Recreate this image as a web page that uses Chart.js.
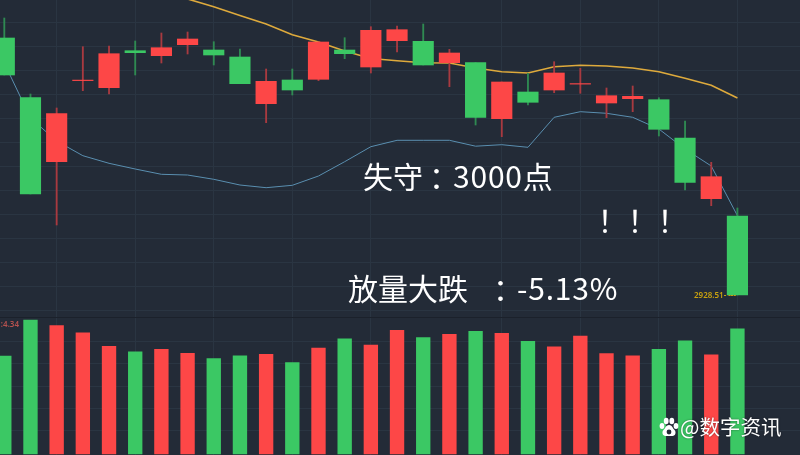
<!DOCTYPE html>
<html lang="zh">
<head>
<meta charset="utf-8">
<title>K线</title>
<script src="https://cdn.jsdelivr.net/npm/chart.js@4/dist/chart.umd.min.js"></script>
<style>
  html, body { margin: 0; padding: 0; background: #232b37; }
  #page { position: relative; width: 800px; height: 455px; overflow: hidden; background: #232b37; }
  canvas { position: absolute; left: 0; display: block; }
  #priceChart { top: 0; }
  #volumeChart { top: 318px; }
  #divider { position: absolute; left: 0; top: 317px; width: 800px; height: 1px; background: #1b212b; }
  .note { position: absolute; color: #fff; font: 30px/40px "Noto Sans CJK SC"; white-space: nowrap; }
  .tc { font-family: "Noto Sans CJK TC"; }
  .colon { font-family: "Noto Sans CJK TC"; position: relative; left: 6px; }
  .num { letter-spacing: 0.8px; }
  .small { position: absolute; font: 600 8px/10px "Noto Sans", sans-serif; white-space: nowrap; }
  #mark { position: absolute; left: 680px; top: 412px; color: #fff; font: 20.500px/28px "Noto Sans CJK SC"; white-space: nowrap; text-shadow: 0 0 2px rgba(0,0,0,.5); }
  #paw { position: absolute; left: 659px; top: 417px; }
</style>
</head>
<body>
<div id="page">
  <canvas id="priceChart" width="800" height="317"></canvas>
  <div id="divider"></div>
  <canvas id="volumeChart" width="800" height="137"></canvas>
  <div class="note" style="left:363px;top:155px">失守<span class="colon">：</span><span class="num">3000</span>点</div>
  <div class="note tc" style="left:590px;top:199px">！！！</div>
  <div class="note" style="left:348px;top:267px">放量大跌<span class="colon" style="margin-left:19px">：</span><span class="num">-5.13%</span></div>
  <div class="small" style="left:694px;top:290px;color:#c9a20e">2928.51- ---</div>
  <div class="small" style="right:781px;top:319px;color:#b5524f">1:4.34</div>
  <svg id="paw" width="20" height="20" viewBox="0 0 20 20">
    <ellipse cx="3" cy="9" rx="2.4" ry="3" fill="#fff"/>
    <ellipse cx="7.2" cy="4" rx="2.4" ry="3.2" fill="#fff"/>
    <ellipse cx="12.8" cy="4" rx="2.4" ry="3.2" fill="#fff"/>
    <ellipse cx="17" cy="9" rx="2.4" ry="3" fill="#fff"/>
    <path d="M10 8c-3 0-3.5 3-5.5 5s-1 6 2 6h7c3 0 4-4 2-6s-2.500-5-5.500-5z" fill="#fff"/>
    <circle cx="10" cy="15" r="2.400" fill="#232b37"/>
  </svg>
  <div id="mark">@数字资讯</div>
</div>
<script>
const opens = [3442.5, 3323.5, 3195.1, 3357.3, 3343.1, 3417.1, 3407.1, 3429.1, 3418.5, 3404.5, 3311.1, 3358.5, 3359.9, 3418.5, 3384.5, 3437.1, 3435.9, 3393.1, 3393.1, 3281.1, 3334.5, 3338.5, 3350.3, 3312.5, 3321.1, 3319.1, 3242.5, 3121.1, 3086.5];
const closes = [3368.5, 3130.5, 3291.1, 3358.3, 3411.1, 3413.1, 3423.1, 3440.5, 3408.5, 3351.1, 3355.9, 3338.5, 3434.5, 3411.1, 3457.9, 3459.1, 3388.5, 3412.5, 3283.9, 3354.5, 3313.9, 3372.5, 3351.3, 3327.1, 3325.9, 3259.9, 3153.9, 3165.1, 2928.51];
const highs = [3482.5, 3330.5, 3302.5, 3425.1, 3426.5, 3436.5, 3452.5, 3454.5, 3435.1, 3420.5, 3380.5, 3380.5, 3434.5, 3443.1, 3465.1, 3466.5, 3470.5, 3419.9, 3393.1, 3354.5, 3371.9, 3395.1, 3381.9, 3342.5, 3346.5, 3323.1, 3276.5, 3193.9, 3102.5];
const lows = [3368.5, 3130.5, 3068.5, 3337.1, 3330.5, 3368.5, 3392.5, 3410.5, 3388.5, 3351.1, 3273.1, 3328.5, 3357.1, 3401.1, 3372.5, 3414.5, 3388.5, 3345.1, 3268.5, 3245.1, 3308.5, 3333.1, 3331.9, 3283.1, 3295.1, 3246.5, 3138.5, 3107.1, 2928.51];
const maSlow = [null, null, null, null, null, null, null, 3520.5, 3505.1, 3487.5, 3470.5, 3449.1, 3434.5, 3416.5, 3401.5, 3397.1, 3393.1, 3392.5, 3382.5, 3375.1, 3372.5, 3385.1, 3387.9, 3386.5, 3382.5, 3375.1, 3361.9, 3347.9, 3322.5];
const maFast = [3392.5, 3282.5, 3236.5, 3207.1, 3191.9, 3180.5, 3169.9, 3168.5, 3159.9, 3148.5, 3143.1, 3147.9, 3166.5, 3195.1, 3225.1, 3237.9, 3237.9, 3237.9, 3226.1, 3229.1, 3223.9, 3283.9, 3295.1, 3291.9, 3283.9, 3260.5, 3220.5, 3186.5, 3087.1];
const volumes = [3.18, 4.35, 4.17, 3.94, 3.50, 3.32, 3.40, 3.27, 3.10, 3.19, 3.24, 2.97, 3.44, 3.74, 3.54, 4.02, 3.78, 3.89, 3.99, 3.92, 3.66, 3.48, 3.83, 3.26, 3.19, 3.40, 3.68, 3.22, 4.07];
const gridCandles = [2, 5, 8, 11, 14, 19, 22, 25, 28];
const priceTicks = [3473.1, 3425.1, 3377.1, 3329.1, 3281.1, 3233.1, 3185.1, 3137.1, 3089.1, 3041.1, 2993.1, 2945.1, 2897.1];
const volumeTicks = [0.75, 1.48, 2.21, 2.94, 3.67];

const UP = '#fd4747';
const DOWN = '#3bc864';
const UP_WICK = '#a83a40';
const DOWN_WICK = '#2f8a52';
const GRID = '#2a3542';
const candleColors = opens.map((o, i) => closes[i] >= o ? UP : DOWN);
const wickColors = opens.map((o, i) => closes[i] >= o ? UP_WICK : DOWN_WICK);

function pairs(values) {
  return values.map((v, i) => ({ x: i, y: v }));
}

// same x window for both panels so candles and volume bars line up
function xAxis() {
  return {
    type: 'linear',
    offset: false,
    min: -0.164,
    max: 30.39,
    afterBuildTicks: s => { s.ticks = gridCandles.map(v => ({ value: v })); },
    afterFit: s => { s.height = 0; },
    ticks: { display: false },
    border: { display: false },
    grid: { color: GRID, drawTicks: false, offset: false }
  };
}

function yAxis(min, max, tickValues) {
  return {
    min,
    max,
    afterBuildTicks: s => { s.ticks = tickValues.map(v => ({ value: v })); },
    afterFit: s => { s.width = 0; },
    ticks: { display: false },
    border: { display: false },
    grid: { color: GRID, drawTicks: false }
  };
}

function baseOptions(min, max, tickValues) {
  return {
    responsive: false,
    animation: false,
    events: [],
    layout: { padding: 0 },
    plugins: { legend: { display: false }, tooltip: { enabled: false } },
    scales: { x: xAxis(), y: yAxis(min, max, tickValues) }
  };
}

new Chart(document.getElementById('priceChart'), {
  type: 'bar',
  data: {
    datasets: [
      {
        type: 'line',
        data: pairs(maSlow),
        borderColor: '#deaa3c',
        borderWidth: 1.6,
        pointRadius: 0,
        tension: 0,
        order: 4
      },
      {
        type: 'line',
        data: pairs(maFast),
        borderColor: '#5a8fb0',
        borderWidth: 1,
        pointRadius: 0,
        tension: 0,
        order: 3
      },
      {
        data: lows.map((l, i) => ({ x: i, y: [l, highs[i]] })),
        backgroundColor: wickColors,
        barThickness: 1.2,
        grouped: false,
        order: 2
      },
      {
        data: opens.map((o, i) => ({ x: i, y: [o, closes[i]] })),
        backgroundColor: candleColors,
        barThickness: 20.5,
        grouped: false,
        order: 1
      }
    ]
  },
  options: baseOptions(2884.5, 3518.5, priceTicks)
});

new Chart(document.getElementById('volumeChart'), {
  type: 'bar',
  data: {
    datasets: [{
      data: pairs(volumes),
      backgroundColor: candleColors,
      barThickness: 13.7
    }]
  },
  options: baseOptions(-0.0325, 4.42, volumeTicks)
});
</script>
</body>
</html>
